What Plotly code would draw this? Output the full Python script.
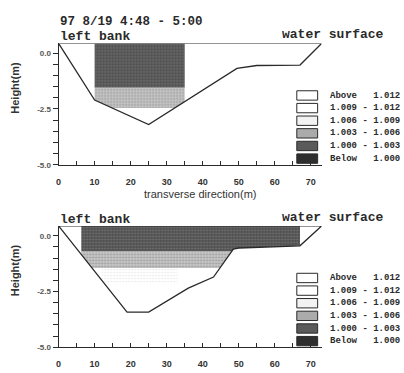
import numpy as np
import plotly.graph_objects as go

W, H = 404, 373

# ---------------- data ----------------
title_text = "97 8/19 4:48 - 5:00"
class_labels = ["Above   1.012", "1.009 - 1.012", "1.006 - 1.009",
                "1.003 - 1.006", "1.000 - 1.003", "Below   1.000"]

water_level = 0.44

top_bed_x = [0, 10, 25, 49.5, 55, 67, 73]
top_bed_z = [0.44, -2.1, -3.2, -0.68, -0.55, -0.53, 0.44]
top_layer_x0 = [10, 10]
top_layer_x1 = [35, 35]
top_layer_top = [0.44, -1.55]
top_layer_bottom = [-1.55, -2.45]
top_layer_class = [4, 3]

bot_bed_x = [0, 19, 25, 30, 36, 43, 48.5, 50, 67, 73]
bot_bed_z = [0.44, -3.42, -3.42, -2.95, -2.35, -1.85, -0.6, -0.55, -0.45, 0.44]
bot_layer_x0 = [6.3, 6.3, 12]
bot_layer_x1 = [67, 67, 33]
bot_layer_top = [0.44, -0.68, -1.45]
bot_layer_bottom = [-0.68, -1.45, -2.15]
bot_layer_class = [4, 3, 2]

x_tick_vals = list(range(0, 75, 5))
x_tick_text = ["0", "", "10", "", "20", "", "30", "", "40", "", "50", "", "60", "", "70"]
y_tick_vals = [round(-5 + 0.5 * i, 1) for i in range(11)]
y_tick_text = ["-5.0", "", "", "", "", "-2.5", "", "", "", "", "0.0"]

# ---------------- styles ----------------
class_bg = ["#ffffff", "#ffffff", "#ffffff", "#c8c8c8", "#4e4e4e", "#2a2a2a"]
class_fg = ["#ffffff", "#ffffff", "#cfcfcf", "#6a6a6a", "#9a9a9a", "#2a2a2a"]
class_solidity = [0.3, 0.3, 0.25, 0.35, 0.35, 0.3]
legend_fill = ["#ffffff", "#ffffff", "#f2f2f2", "#ababab", "#5a5a5a", "#2e2e2e"]
ink = "#2a2a2a"


def px2x(px):
    return px / W


def py2y(py):
    return 1 - py / H


def band_polygon(bx, bz, x0, x1, ztop, zbot):
    bx = np.asarray(bx, float)
    bz = np.asarray(bz, float)
    xs = [x0, x1] + [x for x in bx if x0 < x < x1]
    for level in (ztop, zbot):
        for i in range(len(bx) - 1):
            za, zb = bz[i], bz[i + 1]
            if (za - level) * (zb - level) < 0:
                t = (level - za) / (zb - za)
                xc = bx[i] + t * (bx[i + 1] - bx[i])
                if x0 < xc < x1:
                    xs.append(xc)
    xs = np.array(sorted(set(xs)))
    bed = np.interp(xs, bx, bz)
    lower = np.maximum(bed, zbot)
    upper = np.maximum(ztop, bed)
    return (np.concatenate([xs, xs[::-1]]).tolist(),
            np.concatenate([upper, lower[::-1]]).tolist())


fig = go.Figure()

panels = [
    dict(xa="x", ya="y", bx=top_bed_x, bz=top_bed_z, x0=top_layer_x0, x1=top_layer_x1,
         tops=top_layer_top, bots=top_layer_bottom, cls=top_layer_class),
    dict(xa="x2", ya="y2", bx=bot_bed_x, bz=bot_bed_z, x0=bot_layer_x0, x1=bot_layer_x1,
         tops=bot_layer_top, bots=bot_layer_bottom, cls=bot_layer_class),
]

for p in panels:
    for xa0, xa1, zt, zb, c in zip(p["x0"], p["x1"], p["tops"], p["bots"], p["cls"]):
        xs, zs = band_polygon(p["bx"], p["bz"], xa0, xa1, zt, zb)
        fig.add_trace(go.Scatter(
            x=xs, y=zs, xaxis=p["xa"], yaxis=p["ya"], mode="lines",
            fill="toself", line=dict(width=0), fillcolor=class_bg[c],
            fillpattern=dict(shape=".", bgcolor=class_bg[c], fgcolor=class_fg[c],
                             size=3, solidity=class_solidity[c]),
            hoverinfo="skip", showlegend=False))
    fig.add_trace(go.Scatter(
        x=list(p["bx"]) + [p["bx"][0]], y=list(p["bz"]) + [p["bz"][0]],
        xaxis=p["xa"], yaxis=p["ya"], mode="lines",
        line=dict(color=ink, width=1.3), hoverinfo="skip", showlegend=False))

# axes geometry (page pixels)
x_left, x_right = 56, 56 + 73 * 3.63
top_py = (44, 167)
bot_py = (229, 352)

xaxis_common = dict(range=[0, 73], showline=True, linecolor=ink, linewidth=1,
                    ticks="inside", ticklen=4, tickcolor=ink, tickwidth=1,
                    tickvals=x_tick_vals, ticktext=x_tick_text,
                    tickfont=dict(family="Liberation Sans", size=9, color="#333", weight="bold"),
                    ticklabelstandoff=8, showgrid=False, zeroline=False, fixedrange=True)
yaxis_common = dict(range=[-5, water_level], showline=True, linecolor=ink, linewidth=1,
                    ticks="outside", ticklen=5, tickcolor=ink, tickwidth=1,
                    tickvals=y_tick_vals, ticktext=y_tick_text,
                    tickfont=dict(family="Liberation Sans", size=8, color="#555", weight="bold"),
                    showgrid=False, zeroline=False, fixedrange=True)

fig.update_layout(
    width=W, height=H, margin=dict(l=0, r=0, t=0, b=0),
    paper_bgcolor="white", plot_bgcolor="white", showlegend=False,
    xaxis=dict(domain=[px2x(x_left), px2x(x_right)], anchor="y", **xaxis_common),
    yaxis=dict(domain=[py2y(top_py[1]), py2y(top_py[0])], anchor="x", **yaxis_common),
    xaxis2=dict(domain=[px2x(x_left), px2x(x_right)], anchor="y2", **xaxis_common),
    yaxis2=dict(domain=[py2y(bot_py[1]), py2y(bot_py[0])], anchor="x2", **yaxis_common),
)

mono = "Liberation Mono"
ann = []
ann.append(dict(text=title_text, x=px2x(55), y=py2y(22), xanchor="left", yanchor="middle",
                font=dict(family=mono, size=12.5, color=ink, weight="bold")))
for dy in (0, 185):
    ann.append(dict(text="left bank", x=px2x(55), y=py2y(37 + dy), xanchor="left",
                    yanchor="middle", font=dict(family=mono, size=13, color=ink, weight="bold")))
    ann.append(dict(text="water surface", x=px2x(279), y=py2y(35 + dy), xanchor="left",
                    yanchor="middle", font=dict(family=mono, size=13, color=ink, weight="bold")))
    ann.append(dict(text="Height(m)", x=px2x(12), y=py2y(89 + dy), textangle=-90,
                    xanchor="center", yanchor="middle",
                    font=dict(family="Liberation Sans", size=11, color="#333", weight="bold")))
    for i, lab in enumerate(class_labels):
        y0 = 92 + i * 12.8 + dy
        fig.add_shape(type="rect", xref="paper", yref="paper",
                      x0=px2x(296), x1=px2x(317), y0=py2y(y0 + 9.5), y1=py2y(y0),
                      fillcolor=legend_fill[i], line=dict(color=ink, width=1))
        ann.append(dict(text=lab, x=px2x(327), y=py2y(y0 + 4.8), xanchor="left",
                        yanchor="middle", font=dict(family=mono, size=9, color=ink, weight="bold")))
ann.append(dict(text="transverse direction(m)", x=px2x(198), y=py2y(197),
                xanchor="center", yanchor="middle",
                font=dict(family="Liberation Sans", size=11, color="#333")))
for a in ann:
    a.update(xref="paper", yref="paper", showarrow=False)
fig.update_layout(annotations=ann)

fig.write_html("out.html", config={"displayModeBar": False},
               post_script="document.body.style.margin='0';document.body.style.padding='0';")
